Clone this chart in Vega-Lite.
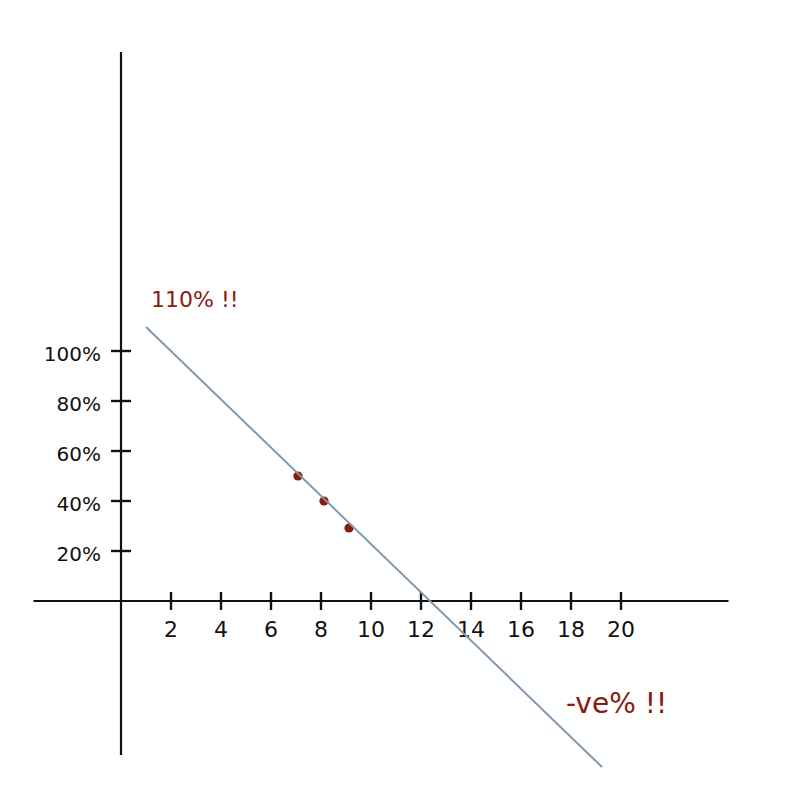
{
  "$schema": "https://vega.github.io/schema/vega-lite/v6.json",
  "width": 800,
  "height": 800,
  "autosize": {"type": "fit", "contains": "padding"},
  "padding": 0,
  "background": "white",
  "config": {"view": {"stroke": null}},
  "datasets": {
    "axes": [
      {"x": -3.5, "y": 0, "x2": 24.3, "y2": 0},
      {"x": 0, "y": -61.6, "x2": 0, "y2": 219.6}
    ],
    "ticks": [
      {"x": 2, "y": -3.6, "x2": 2, "y2": 3.6},
      {"x": 4, "y": -3.6, "x2": 4, "y2": 3.6},
      {"x": 6, "y": -3.6, "x2": 6, "y2": 3.6},
      {"x": 8, "y": -3.6, "x2": 8, "y2": 3.6},
      {"x": 10, "y": -3.6, "x2": 10, "y2": 3.6},
      {"x": 12, "y": -3.6, "x2": 12, "y2": 3.6},
      {"x": 14, "y": -3.6, "x2": 14, "y2": 3.6},
      {"x": 16, "y": -3.6, "x2": 16, "y2": 3.6},
      {"x": 18, "y": -3.6, "x2": 18, "y2": 3.6},
      {"x": 20, "y": -3.6, "x2": 20, "y2": 3.6},
      {"x": -0.4, "y": 20, "x2": 0.4, "y2": 20},
      {"x": -0.4, "y": 40, "x2": 0.4, "y2": 40},
      {"x": -0.4, "y": 60, "x2": 0.4, "y2": 60},
      {"x": -0.4, "y": 80, "x2": 0.4, "y2": 80},
      {"x": -0.4, "y": 100, "x2": 0.4, "y2": 100}
    ],
    "xlabels": [
      {"x": 2, "y": -11.6, "label": "2"},
      {"x": 4, "y": -11.6, "label": "4"},
      {"x": 6, "y": -11.6, "label": "6"},
      {"x": 8, "y": -11.6, "label": "8"},
      {"x": 10, "y": -11.6, "label": "10"},
      {"x": 12, "y": -11.6, "label": "12"},
      {"x": 14, "y": -11.6, "label": "14"},
      {"x": 16, "y": -11.6, "label": "16"},
      {"x": 18, "y": -11.6, "label": "18"},
      {"x": 20, "y": -11.6, "label": "20"}
    ],
    "ylabels": [
      {"x": -0.8, "y": 18.5, "label": "20%"},
      {"x": -0.8, "y": 38.5, "label": "40%"},
      {"x": -0.8, "y": 58.5, "label": "60%"},
      {"x": -0.8, "y": 78.5, "label": "80%"},
      {"x": -0.8, "y": 98.5, "label": "100%"}
    ],
    "trend": [
      {"x": 1.0, "y": 109.6},
      {"x": 19.24, "y": -66.4}
    ],
    "points": [
      {"x": 7.08, "y": 50.0},
      {"x": 8.12, "y": 40.0},
      {"x": 9.12, "y": 29.2}
    ],
    "high": [
      {"x": 1.2, "y": 120.5, "label": "110% !!"}
    ],
    "low": [
      {"x": 17.8, "y": -41.6, "label": "-ve%  !!"}
    ]
  },
  "encoding": {
    "x": {"field": "x", "type": "quantitative", "scale": {"domain": [-4.84, 27.16], "nice": false, "zero": false}, "axis": null},
    "y": {"field": "y", "type": "quantitative", "scale": {"domain": [-79.6, 240.4], "nice": false, "zero": false}, "axis": null}
  },
  "layer": [
    {
      "data": {"name": "axes"},
      "mark": {"type": "rule", "color": "#111111", "strokeWidth": 2.2},
      "encoding": {"x2": {"field": "x2"}, "y2": {"field": "y2"}}
    },
    {
      "data": {"name": "ticks"},
      "mark": {"type": "rule", "color": "#111111", "strokeWidth": 2.4},
      "encoding": {"x2": {"field": "x2"}, "y2": {"field": "y2"}}
    },
    {
      "data": {"name": "xlabels"},
      "mark": {"type": "text", "font": "DejaVu Sans", "fontSize": 22, "color": "#111111", "align": "center", "baseline": "middle"},
      "encoding": {"text": {"field": "label"}}
    },
    {
      "data": {"name": "ylabels"},
      "mark": {"type": "text", "font": "DejaVu Sans", "fontSize": 20, "color": "#111111", "align": "right", "baseline": "middle"},
      "encoding": {"text": {"field": "label"}}
    },
    {
      "data": {"name": "points"},
      "mark": {"type": "circle", "color": "#8b1a10", "opacity": 1, "size": 85}
    },
    {
      "data": {"name": "trend"},
      "mark": {"type": "line", "color": "#7f99b5", "strokeWidth": 2}
    },
    {
      "data": {"name": "high"},
      "mark": {"type": "text", "font": "DejaVu Sans", "fontSize": 22, "color": "#8b1a10", "align": "left", "baseline": "middle"},
      "encoding": {"text": {"field": "label"}}
    },
    {
      "data": {"name": "low"},
      "mark": {"type": "text", "font": "DejaVu Sans", "fontSize": 28, "color": "#8b1a10", "align": "left", "baseline": "middle"},
      "encoding": {"text": {"field": "label"}}
    }
  ]
}
